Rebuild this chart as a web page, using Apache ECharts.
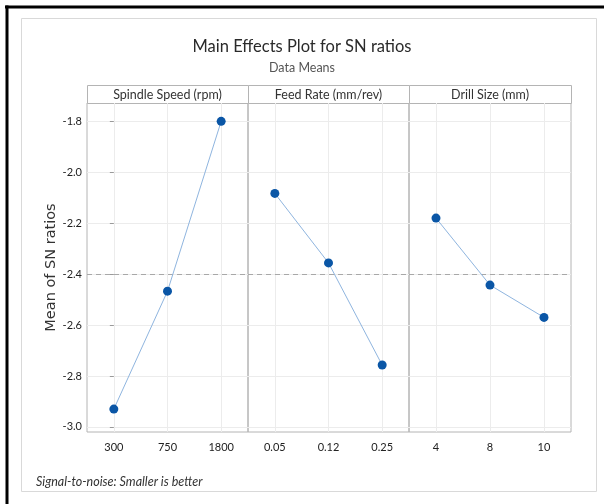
<!DOCTYPE html>
<html>
<head>
<meta charset="utf-8">
<script src="https://cdn.jsdelivr.net/npm/echarts@6/dist/echarts.min.js"></script>
<style>
  html, body { margin: 0; padding: 0; background: #ffffff; }
  #chart { width: 604px; height: 504px; }
</style>
</head>
<body>
<div id="chart"></div>
<script>
// Factor names and their levels
const factorNames = ['Spindle Speed (rpm)', 'Feed Rate (mm/rev)', 'Drill Size (mm)'];
const spindleLevels = ['300', '750', '1800'];
const feedLevels = ['0.05', '0.12', '0.25'];
const drillLevels = ['4', '8', '10'];

// Mean of SN ratios at each level
const spindleMeans = [-2.930, -2.467, -1.800];
const feedMeans = [-2.083, -2.356, -2.757];
const drillMeans = [-2.180, -2.443, -2.570];

// Value-axis tick labels
const yTicks = [-3.0, -2.8, -2.6, -2.4, -2.2, -2.0, -1.8];

const levels = [spindleLevels, feedLevels, drillLevels];
const means = [spindleMeans, feedMeans, drillMeans];

// Grand mean of all level means (reference line)
const allMeans = [].concat(spindleMeans, feedMeans, drillMeans);
const grandMean = allMeans.reduce((a, b) => a + b, 0) / allMeans.length;

// Panel layout
const panelLeft = [87, 248, 409];
const panelWidth = [161, 161, 162];
const plotTop = 103;
const plotHeight = 329;
const headerTop = 85;
const headerHeight = 18;

const frameColor = '#b4b4b4';
const gridColor = '#ececec';
const baseFont = 'Lato, "Open Sans", sans-serif';

const chart = echarts.init(document.getElementById('chart'), null, { renderer: 'canvas' });

const grids = [], xAxes = [], yAxes = [], series = [];
levels.forEach((lv, i) => {
  grids.push({
    left: panelLeft[i], top: plotTop, width: panelWidth[i], height: plotHeight,
    show: true, borderColor: frameColor, borderWidth: 1, backgroundColor: 'transparent'
  });
  xAxes.push({
    gridIndex: i, type: 'value', min: -0.5, max: 2.5,
    axisLine: { show: false },
    axisTick: { show: false, customValues: [0, 1, 2] },
    axisLabel: {
      customValues: [0, 1, 2],
      formatter: v => lv[Math.round(v)],
      color: '#222', fontSize: 11, fontFamily: baseFont, margin: 10
    },
    splitLine: { show: true, lineStyle: { color: gridColor, width: 1 } }
  });
  yAxes.push({
    gridIndex: i, type: 'value', min: -3.02, max: -1.728,
    name: i === 0 ? 'Mean of SN ratios' : '',
    nameLocation: 'middle', nameGap: 28,
    nameTextStyle: { color: '#333', fontSize: 14.5, fontFamily: '"DejaVu Sans", sans-serif' },
    axisLine: { show: false },
    axisTick: {
      show: i === 0, customValues: yTicks, length: 4,
      lineStyle: { color: '#9a9a9a' }
    },
    axisLabel: {
      show: i === 0, customValues: yTicks,
      formatter: v => v.toFixed(1),
      color: '#1e1e1e', fontSize: 11, fontFamily: baseFont, margin: 5
    },
    splitLine: { show: true, lineStyle: { color: gridColor, width: 1 } }
  });
  series.push({
    type: 'line', xAxisIndex: i, yAxisIndex: i,
    data: means[i].map((v, k) => [k, v]),
    symbol: 'circle', symbolSize: 9,
    itemStyle: { color: '#0a56a6' },
    lineStyle: { color: '#8fb5df', width: 1 },
    silent: true, animation: false, z: 5,
    markLine: {
      silent: true, symbol: 'none', animation: false,
      label: { show: false },
      lineStyle: { color: '#a8a8a8', type: [5, 4], width: 1 },
      data: [{ yAxis: grandMean }]
    }
  });
});

const graphics = [
  // outer light frame
  { type: 'rect', shape: { x: 21.5, y: 18.5, width: 575, height: 473 },
    style: { fill: 'none', stroke: '#d9d9d9', lineWidth: 1 }, silent: true },
  // heavy black edge along top and left
  { type: 'line', shape: { x1: 5, y1: 7, x2: 604, y2: 7 },
    style: { stroke: '#000', lineWidth: 3 }, silent: true },
  { type: 'line', shape: { x1: 7, y1: 5.5, x2: 7, y2: 504 },
    style: { stroke: '#000', lineWidth: 3 }, silent: true }
];
// Header strip above the panels
factorNames.forEach((name, i) => {
  graphics.push({
    type: 'rect',
    shape: { x: panelLeft[i] + 0.5, y: headerTop + 0.5, width: panelWidth[i], height: headerHeight },
    style: { fill: '#ffffff', stroke: frameColor, lineWidth: 1 }, silent: true
  });
  graphics.push({
    type: 'text',
    x: panelLeft[i] + panelWidth[i] / 2, y: headerTop + headerHeight / 2 + 1,
    style: { text: name, fill: '#333', font: '12.5px ' + baseFont, align: 'center', verticalAlign: 'middle' },
    silent: true
  });
});

chart.setOption({
  animation: false,
  backgroundColor: '#ffffff',
  title: [
    { text: 'Main Effects Plot for SN ratios', left: 'center', top: 33,
      textStyle: { fontSize: 16.5, fontWeight: 'normal', color: '#2a2a2a', fontFamily: baseFont } },
    { text: 'Data Means', left: 'center', top: 56,
      textStyle: { fontSize: 12.5, fontWeight: 'normal', color: '#555', fontFamily: baseFont } },
    { text: 'Signal-to-noise: Smaller is better', left: 31, top: 470,
      textStyle: { fontSize: 12.5, fontWeight: 'normal', fontStyle: 'italic', color: '#333', fontFamily: baseFont } }
  ],
  grid: grids,
  xAxis: xAxes,
  yAxis: yAxes,
  series: series,
  graphic: graphics
});
</script>
</body>
</html>
